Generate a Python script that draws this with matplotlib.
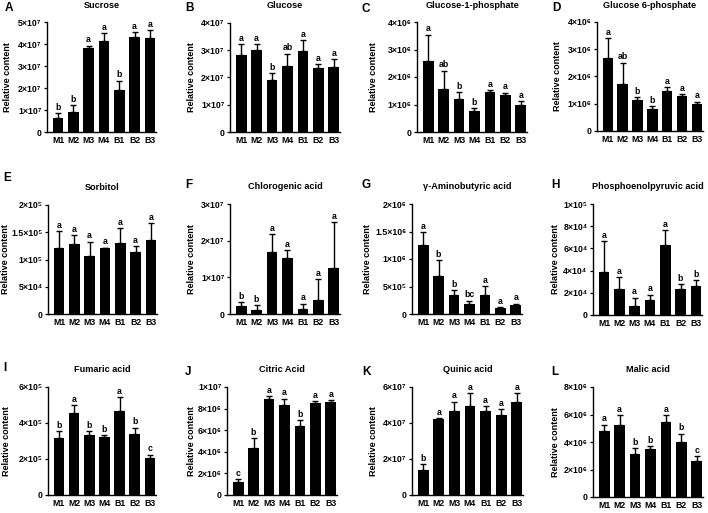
import matplotlib
matplotlib.use("Agg")
import matplotlib.pyplot as plt
from matplotlib.ticker import FixedLocator, FuncFormatter
import numpy as np

plt.rcParams['font.family'] = ['Liberation Sans', 'DejaVu Sans']
plt.rcParams['font.weight'] = 'bold'

groups = ["M1", "M2", "M3", "M4", "B1", "B2", "B3"]

titles = ["Sucrose", "Glucose", "Glucose-1-phosphate", "Glucose 6-phosphate",
          "Sorbitol", "Chlorogenic acid", "γ-Aminobutyric acid", "Phosphoenolpyruvic acid",
          "Fumaric acid", "Citric Acid", "Quinic acid", "Malic acid"]
panel_letters = ["A", "B", "C", "D", "E", "F", "G", "H", "I", "J", "K", "L"]

sucrose = [0.63e7, 0.92e7, 3.81e7, 4.14e7, 1.92e7, 4.34e7, 4.26e7]
sucrose_err = [0.23e7, 0.30e7, 0.12e7, 0.35e7, 0.41e7, 0.19e7, 0.38e7]
sucrose_sig = ["b", "b", "a", "a", "b", "a", "a"]

glucose = [2.83e7, 3.01e7, 1.90e7, 2.44e7, 2.98e7, 2.34e7, 2.40e7]
glucose_err = [0.39e7, 0.22e7, 0.27e7, 0.44e7, 0.39e7, 0.14e7, 0.27e7]
glucose_sig = ["a", "a", "b", "ab", "a", "a", "a"]

g1p = [2.57e6, 1.58e6, 1.20e6, 0.76e6, 1.45e6, 1.36e6, 0.99e6]
g1p_err = [0.97e6, 0.65e6, 0.25e6, 0.10e6, 0.07e6, 0.07e6, 0.13e6]
g1p_sig = ["a", "ab", "b", "b", "a", "a", "a"]

g6p = [2.67e6, 1.74e6, 1.14e6, 0.80e6, 1.47e6, 1.28e6, 0.99e6]
g6p_err = [0.74e6, 0.77e6, 0.11e6, 0.12e6, 0.13e6, 0.07e6, 0.09e6]
g6p_sig = ["a", "ab", "b", "b", "a", "a", "a"]

sorbitol = [1.21e5, 1.29e5, 1.07e5, 1.21e5, 1.31e5, 1.14e5, 1.35e5]
sorbitol_err = [0.31e5, 0.16e5, 0.26e5, 0.01e5, 0.27e5, 0.11e5, 0.32e5]
sorbitol_sig = ["a", "a", "a", "a", "a", "a", "a"]

chlorogenic = [0.21e7, 0.12e7, 1.70e7, 1.52e7, 0.15e7, 0.37e7, 1.26e7]
chlorogenic_err = [0.12e7, 0.12e7, 0.47e7, 0.23e7, 0.13e7, 0.58e7, 1.24e7]
chlorogenic_sig = ["b", "b", "a", "a", "a", "a", "a"]

gaba = [1.26e6, 0.69e6, 0.34e6, 0.18e6, 0.35e6, 0.11e6, 0.16e6]
gaba_err = [0.23e6, 0.29e6, 0.09e6, 0.06e6, 0.16e6, 0.01e6, 0.03e6]
gaba_sig = ["a", "b", "b", "bc", "a", "a", "a"]

pep = [3.84e4, 2.30e4, 0.82e4, 1.39e4, 6.28e4, 2.30e4, 2.57e4]
pep_err = [2.81e4, 1.11e4, 0.75e4, 0.45e4, 1.36e4, 0.45e4, 0.57e4]
pep_sig = ["a", "a", "a", "a", "a", "b", "b"]

fumaric = [3.17e5, 4.53e5, 3.35e5, 3.24e5, 4.64e5, 3.41e5, 2.04e5]
fumaric_err = [0.38e5, 0.46e5, 0.19e5, 0.09e5, 0.81e5, 0.33e5, 0.21e5]
fumaric_sig = ["b", "a", "b", "b", "a", "b", "c"]

citric = [1.17e6, 4.32e6, 8.89e6, 8.36e6, 6.42e6, 8.52e6, 8.58e6]
citric_err = [0.31e6, 0.96e6, 0.25e6, 0.56e6, 0.52e6, 0.18e6, 0.22e6]
citric_sig = ["c", "b", "a", "a", "b", "a", "a"]

quinic = [1.38e7, 4.20e7, 4.68e7, 4.92e7, 4.68e7, 4.42e7, 5.14e7]
quinic_err = [0.33e7, 0.07e7, 0.51e7, 0.72e7, 0.24e7, 0.35e7, 0.53e7]
quinic_sig = ["b", "a", "a", "a", "a", "a", "a"]

malic = [4.80e6, 5.27e6, 3.12e6, 3.46e6, 5.49e6, 4.02e6, 2.61e6]
malic_err = [0.47e6, 0.66e6, 0.42e6, 0.22e6, 0.44e6, 0.59e6, 0.34e6]
malic_sig = ["a", "a", "b", "b", "a", "b", "c"]

yticks = [
    [0, 1e7, 2e7, 3e7, 4e7, 5e7],
    [0, 1e7, 2e7, 3e7, 4e7],
    [0, 1e6, 2e6, 3e6, 4e6],
    [0, 1e6, 2e6, 3e6, 4e6],
    [0, 5e4, 1e5, 1.5e5, 2e5],
    [0, 1e7, 2e7, 3e7],
    [0, 5e5, 1e6, 1.5e6, 2e6],
    [0, 2e4, 4e4, 6e4, 8e4, 1e5],
    [0, 2e5, 4e5, 6e5],
    [0, 2e6, 4e6, 6e6, 8e6, 1e7],
    [0, 2e7, 4e7, 6e7],
    [0, 2e6, 4e6, 6e6, 8e6],
]

values = [sucrose, glucose, g1p, g6p, sorbitol, chlorogenic, gaba, pep,
          fumaric, citric, quinic, malic]
errors = [sucrose_err, glucose_err, g1p_err, g6p_err, sorbitol_err, chlorogenic_err,
          gaba_err, pep_err, fumaric_err, citric_err, quinic_err, malic_err]
sigs = [sucrose_sig, glucose_sig, g1p_sig, g6p_sig, sorbitol_sig, chlorogenic_sig,
        gaba_sig, pep_sig, fumaric_sig, citric_sig, quinic_sig, malic_sig]

# axes boxes in pixels: left, right, top, bottom (image coords)
boxes = [
    (47, 156, 22, 132), (230, 340, 23, 132), (417, 527, 22, 132), (597, 703, 22, 131),
    (48, 157, 205, 314), (230, 340, 204, 314), (412, 522, 204, 314), (593, 702, 204, 315),
    (48, 156, 387, 495), (227, 337, 387, 495), (412, 523, 387, 495), (593, 703, 387, 497),
]
ylabel_x = [8, 191, 373, 557, 6, 191, 368, 555, 7, 191, 373, 555]
letter_pos = [(5, 8), (185, 8), (362, 9), (552, 8),
              (3, 178), (185, 185), (362, 185), (551, 185),
              (3, 368), (185, 372), (362, 372), (551, 372)]

SUP = str.maketrans("0123456789-", "⁰¹²³⁴⁵⁶⁷⁸⁹⁻")


def sci(v, pos=None):
    if v == 0:
        return "0"
    e = int(np.floor(np.log10(v) + 1e-9))
    m = v / 10 ** e
    ms = ("%g" % round(m, 2))
    return ms + "×10" + str(e).translate(SUP)


W, H = 708, 513
fig = plt.figure(figsize=(W / 100, H / 100), dpi=100)

for i in range(12):
    l, r, t, b = boxes[i]
    ax = fig.add_axes([l / W, 1 - b / H, (r - l) / W, (b - t) / H])
    x = np.arange(len(groups))
    vals = np.array(values[i])
    errs = np.array(errors[i])
    ax.bar(x, vals, width=0.7, color="black", zorder=2)
    ax.errorbar(x, vals, yerr=[np.zeros_like(errs), errs], fmt="none",
                ecolor="black", elinewidth=1.0, capsize=2.4, capthick=1.0, zorder=1)
    top = yticks[i][-1]
    for xi, v, e, s in zip(x, vals, errs, sigs[i]):
        ax.text(xi, v + e + top * 0.012, s, ha="center", va="bottom",
                fontsize=6.3, fontweight="bold")
    ax.set_xlim(-0.72, 6.4)
    ax.set_ylim(0, top)
    ax.yaxis.set_major_locator(FixedLocator(yticks[i]))
    ax.yaxis.set_major_formatter(FuncFormatter(sci))
    ax.set_xticks(x)
    ax.set_xticklabels(groups)
    for sp in ["top", "right"]:
        ax.spines[sp].set_visible(False)
    for sp in ["left", "bottom"]:
        ax.spines[sp].set_linewidth(1.0)
    ax.tick_params(axis="both", direction="out", length=2.5, width=0.9,
                   labelsize=6.3, pad=1.5)
    ax.tick_params(axis="x", length=0, pad=3)
    for lab in ax.get_xticklabels() + ax.get_yticklabels():
        lab.set_fontweight("bold")
    ax.set_ylabel("Relative content", fontsize=6.5, fontweight="bold")
    ax.yaxis.label.set_va("center")
    ax.yaxis.set_label_coords((ylabel_x[i] - l) / (r - l), 0.5)
    cx = (l + r) / 2
    fig.text(cx / W, 1 - (t - 17) / H, titles[i], ha="center", va="center",
             fontsize=6.6, fontweight="bold")
    lx, ly = letter_pos[i]
    fig.text(lx / W, 1 - ly / H, panel_letters[i], ha="left", va="center",
             fontsize=8.5, fontweight="bold")

fig.savefig("out.png", dpi=100)
